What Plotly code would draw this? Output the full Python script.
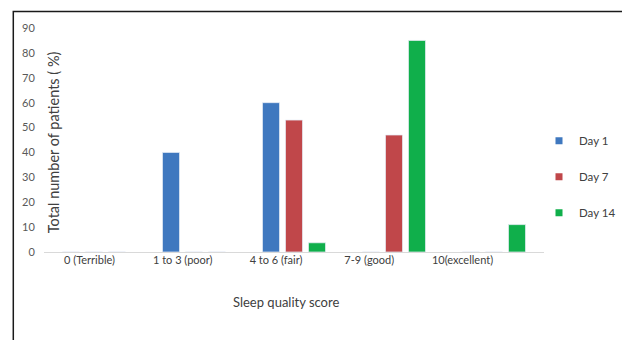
import plotly.graph_objects as go

categories = ["0 (Terrible)", "1 to 3 (poor)", "4 to 6 (fair)", "7-9 (good)", "10(excellent)"]
day1 = [0, 40, 60, 0, 0]
day7 = [0, 0, 53, 47, 0]
day14 = [0, 0, 3.7, 85, 11]
series_names = ["Day 1", "Day 7", "Day 14"]
colors = ["#3F78BF", "#C0474A", "#10AF4B"]
y_ticks = [0, 10, 20, 30, 40, 50, 60, 70, 80, 90]

FONT = "Lato, 'Open Sans', sans-serif"

fig = go.Figure()
for name, vals, col, grp in zip(series_names, [day1, day7, day14], colors, ["a", "b", "c"]):
    fig.add_trace(go.Bar(
        x=categories, y=vals, name=name, showlegend=False,
        marker=dict(color=col, line=dict(color="rgba(230,236,245,0.9)", width=0.8)),
        xaxis="x", yaxis="y",
    ))
    # legend proxy with small square swatch
    fig.add_trace(go.Scatter(
        x=[None], y=[None], name=name, mode="markers", legendgroup=grp,
        marker=dict(symbol="square", size=7, color=col),
        xaxis="x", yaxis="y",
    ))

# second axis only to carry the category labels (as placed in the original)
fig.add_trace(go.Scatter(x=[0, 4], y=[None, None], mode="markers", showlegend=False,
                         xaxis="x2", yaxis="y", hoverinfo="skip"))

fig.update_layout(
    width=622, height=332,
    margin=dict(l=36, r=86, t=20, b=88, autoexpand=False),
    paper_bgcolor="white", plot_bgcolor="white",
    barmode="group", bargap=0.31, bargroupgap=0.26,
    font=dict(family=FONT, color="#404040"),
    xaxis=dict(type="category", categoryarray=categories, showticklabels=False,
               showline=True, linecolor="#D9D9D9", linewidth=1, ticks="",
               showgrid=False, zeroline=False, range=[-0.5, 4.5]),
    xaxis2=dict(overlaying="x", side="bottom", range=[-0.488, 4.874],
                tickvals=[0, 1, 2, 3, 4], ticktext=categories, ticks="",
                showgrid=False, zeroline=False, showline=False,
                tickfont=dict(size=11, color="#404040", family=FONT)),
    yaxis=dict(range=[0, 90], tickvals=y_ticks, showgrid=False, zeroline=False,
               showline=False, ticks="outside", ticklen=6, tickcolor="white",
               tickfont=dict(size=11, color="#595959", family=FONT)),
    legend=dict(x=0.99, y=0.336, xanchor="left", yanchor="middle",
                font=dict(size=11.5, color="#404040", family=FONT),
                tracegroupgap=17, itemwidth=30, bgcolor="rgba(0,0,0,0)"),
    showlegend=True,
    annotations=[
        dict(text="Total number of patients ( %)", textangle=-90, xref="paper", yref="paper",
             x=(53 - 44) / 500, y=0.49, xanchor="center", yanchor="middle",
             showarrow=False, font=dict(size=14.5, color="#404040", family=FONT)),
        dict(text="Sleep quality score", xref="paper", yref="paper",
             x=(286 - 44) / 500, y=(252 - 302) / 224, xanchor="center", yanchor="middle",
             showarrow=False, font=dict(size=13, color="#404040", family=FONT)),
    ],
    shapes=[
        dict(type="path", xref="paper", yref="paper",
             path="M {:.4f} {:.4f} L {:.4f} {:.4f} L {:.4f} {:.4f}".format(
                 (13.3 - 44) / 500, (252 - 345) / 224,
                 (13.3 - 44) / 500, (252 - 11.5) / 224,
                 (635 - 44) / 500, (252 - 11.5) / 224),
             line=dict(color="#1a1a1a", width=1.5)),
    ],
)

fig.write_html("out.html")
